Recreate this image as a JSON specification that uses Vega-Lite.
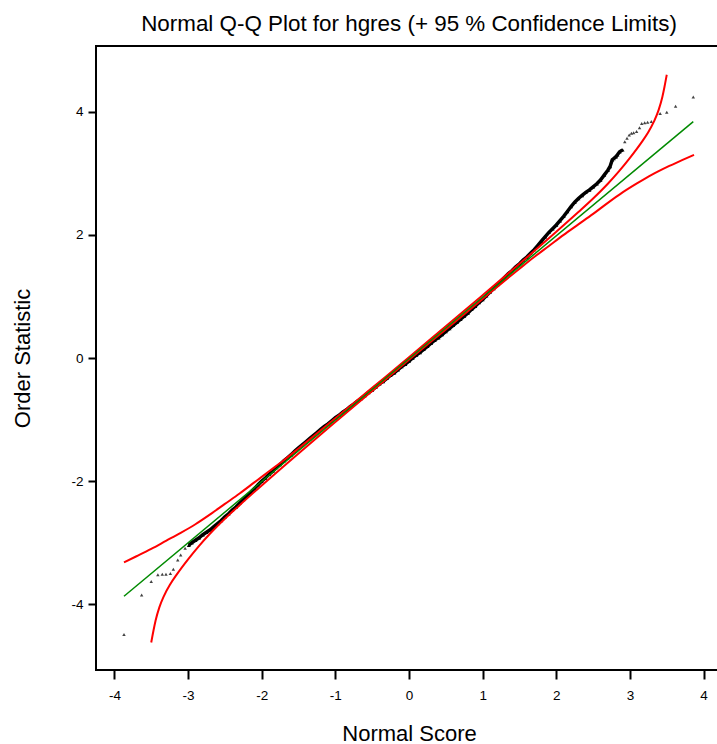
{
  "$schema": "https://vega.github.io/schema/vega-lite/v6.json",
  "autosize": {"type": "none"},
  "padding": {"left": 96, "top": 46, "right": 0, "bottom": 74},
  "width": 626,
  "height": 624,
  "background": "white",
  "title": {
    "text": "Normal Q-Q Plot for hgres (+ 95 % Confidence Limits)",
    "fontSize": 22.4,
    "fontWeight": "normal",
    "font": "Liberation Sans",
    "color": "#000000",
    "anchor": "middle",
    "frame": "group",
    "baseline": "alphabetic",
    "offset": -7
  },
  "config": {
    "font": "Liberation Sans",
    "view": {"stroke": "#000000", "strokeWidth": 2},
    "axis": {
      "grid": false,
      "domain": false,
      "tickColor": "#000000",
      "tickWidth": 2,
      "labelColor": "#000000",
      "labelFontSize": 13.5,
      "titleColor": "#000000",
      "titleFontSize": 22,
      "titleFontWeight": "normal",
      "labelExpr": "'' + datum.value"
    }
  },
  "datasets": {
    "tail": [
      {"x": -3.87, "y": -4.49}, {"x": -3.63, "y": -3.85}, {"x": -3.5, "y": -3.63}, {"x": -3.41, "y": -3.52},
      {"x": -3.35, "y": -3.51}, {"x": -3.3, "y": -3.51}, {"x": -3.24, "y": -3.5}, {"x": -3.2, "y": -3.43},
      {"x": -3.14, "y": -3.28}, {"x": -3.1, "y": -3.2}, {"x": -3.04, "y": -3.09},
      {"x": 2.93, "y": 3.51}, {"x": 2.96, "y": 3.57}, {"x": 2.99, "y": 3.62},
      {"x": 3.02, "y": 3.65}, {"x": 3.05, "y": 3.66}, {"x": 3.09, "y": 3.68}, {"x": 3.13, "y": 3.74},
      {"x": 3.16, "y": 3.81}, {"x": 3.2, "y": 3.82}, {"x": 3.24, "y": 3.83}, {"x": 3.29, "y": 3.84},
      {"x": 3.41, "y": 3.97}, {"x": 3.5, "y": 3.99}, {"x": 3.62, "y": 4.09}, {"x": 3.86, "y": 4.24}
    ],
    "dense": [
      {"x": -2.99, "y": -3.04},
      {"x": -2.95, "y": -3.0}, {"x": -2.9, "y": -2.96}, {"x": -2.85, "y": -2.92}, {"x": -2.8, "y": -2.87},
      {"x": -2.75, "y": -2.83}, {"x": -2.7, "y": -2.79}, {"x": -2.65, "y": -2.74}, {"x": -2.6, "y": -2.69},
      {"x": -2.55, "y": -2.64}, {"x": -2.5, "y": -2.58}, {"x": -2.45, "y": -2.53}, {"x": -2.4, "y": -2.47},
      {"x": -2.35, "y": -2.42}, {"x": -2.3, "y": -2.36}, {"x": -2.25, "y": -2.3}, {"x": -2.2, "y": -2.24},
      {"x": -2.15, "y": -2.18}, {"x": -2.1, "y": -2.12}, {"x": -2.05, "y": -2.06}, {"x": -2.0, "y": -2.0},
      {"x": -1.95, "y": -1.95}, {"x": -1.9, "y": -1.89}, {"x": -1.85, "y": -1.84}, {"x": -1.8, "y": -1.78},
      {"x": -1.75, "y": -1.73}, {"x": -1.7, "y": -1.67}, {"x": -1.65, "y": -1.62}, {"x": -1.6, "y": -1.57},
      {"x": -1.55, "y": -1.51}, {"x": -1.5, "y": -1.46}, {"x": -1.45, "y": -1.41}, {"x": -1.4, "y": -1.36},
      {"x": -1.35, "y": -1.31}, {"x": -1.3, "y": -1.26}, {"x": -1.25, "y": -1.21}, {"x": -1.2, "y": -1.16},
      {"x": -1.15, "y": -1.11}, {"x": -1.1, "y": -1.07}, {"x": -1.05, "y": -1.02}, {"x": -1.0, "y": -0.97},
      {"x": -0.95, "y": -0.93}, {"x": -0.9, "y": -0.88}, {"x": -0.85, "y": -0.84}, {"x": -0.8, "y": -0.79},
      {"x": -0.75, "y": -0.75}, {"x": -0.7, "y": -0.7}, {"x": -0.65, "y": -0.66}, {"x": -0.6, "y": -0.61},
      {"x": -0.55, "y": -0.56}, {"x": -0.5, "y": -0.52}, {"x": -0.45, "y": -0.47}, {"x": -0.4, "y": -0.42},
      {"x": -0.35, "y": -0.38}, {"x": -0.3, "y": -0.33}, {"x": -0.25, "y": -0.28}, {"x": -0.2, "y": -0.24},
      {"x": -0.15, "y": -0.19}, {"x": -0.1, "y": -0.14}, {"x": -0.05, "y": -0.1}, {"x": 0.0, "y": -0.05},
      {"x": 0.05, "y": 0.0}, {"x": 0.1, "y": 0.05}, {"x": 0.15, "y": 0.09}, {"x": 0.2, "y": 0.14},
      {"x": 0.25, "y": 0.19}, {"x": 0.3, "y": 0.24}, {"x": 0.35, "y": 0.29}, {"x": 0.4, "y": 0.33},
      {"x": 0.45, "y": 0.38}, {"x": 0.5, "y": 0.43}, {"x": 0.55, "y": 0.48}, {"x": 0.6, "y": 0.53},
      {"x": 0.65, "y": 0.58}, {"x": 0.7, "y": 0.63}, {"x": 0.75, "y": 0.68}, {"x": 0.8, "y": 0.73},
      {"x": 0.85, "y": 0.79}, {"x": 0.9, "y": 0.84}, {"x": 0.95, "y": 0.9}, {"x": 1.0, "y": 0.95},
      {"x": 1.05, "y": 1.01}, {"x": 1.1, "y": 1.07}, {"x": 1.15, "y": 1.13}, {"x": 1.2, "y": 1.19},
      {"x": 1.25, "y": 1.25}, {"x": 1.3, "y": 1.31}, {"x": 1.35, "y": 1.37}, {"x": 1.4, "y": 1.42},
      {"x": 1.45, "y": 1.48}, {"x": 1.5, "y": 1.53}, {"x": 1.55, "y": 1.59}, {"x": 1.6, "y": 1.64},
      {"x": 1.65, "y": 1.7}, {"x": 1.7, "y": 1.76}, {"x": 1.75, "y": 1.83}, {"x": 1.8, "y": 1.9},
      {"x": 1.85, "y": 1.97}, {"x": 1.9, "y": 2.04}, {"x": 1.95, "y": 2.1}, {"x": 2.0, "y": 2.16},
      {"x": 2.05, "y": 2.23}, {"x": 2.1, "y": 2.3}, {"x": 2.15, "y": 2.38}, {"x": 2.2, "y": 2.46},
      {"x": 2.25, "y": 2.53}, {"x": 2.3, "y": 2.59}, {"x": 2.35, "y": 2.64}, {"x": 2.4, "y": 2.69},
      {"x": 2.45, "y": 2.73}, {"x": 2.5, "y": 2.78}, {"x": 2.55, "y": 2.83}, {"x": 2.6, "y": 2.89},
      {"x": 2.65, "y": 2.97}, {"x": 2.7, "y": 3.05}, {"x": 2.73, "y": 3.11}, {"x": 2.76, "y": 3.22},
      {"x": 2.78, "y": 3.24}, {"x": 2.81, "y": 3.27}, {"x": 2.83, "y": 3.3}, {"x": 2.86, "y": 3.35},
      {"x": 2.9, "y": 3.38}
    ],
    "refline": [
      {"x": -3.87, "y": -3.87}, {"x": 3.86, "y": 3.84}
    ],
    "bands": [
      {"band": "upper", "x": -3.87, "y": -3.32}, {"band": "upper", "x": -3.7, "y": -3.22},
      {"band": "upper", "x": -3.5, "y": -3.1}, {"band": "upper", "x": -3.3, "y": -2.97},
      {"band": "upper", "x": -3.1, "y": -2.84}, {"band": "upper", "x": -2.9, "y": -2.7},
      {"band": "upper", "x": -2.7, "y": -2.54}, {"band": "upper", "x": -2.5, "y": -2.37},
      {"band": "upper", "x": -2.3, "y": -2.2}, {"band": "upper", "x": -2.1, "y": -2.02},
      {"band": "upper", "x": -1.9, "y": -1.84}, {"band": "upper", "x": -1.7, "y": -1.66},
      {"band": "upper", "x": -1.5, "y": -1.47}, {"band": "upper", "x": -1.0, "y": -0.98},
      {"band": "upper", "x": -0.5, "y": -0.485}, {"band": "upper", "x": 0.0, "y": 0.01},
      {"band": "upper", "x": 0.5, "y": 0.515}, {"band": "upper", "x": 1.0, "y": 1.02},
      {"band": "upper", "x": 1.5, "y": 1.53}, {"band": "upper", "x": 2.0, "y": 2.05},
      {"band": "upper", "x": 2.3, "y": 2.37}, {"band": "upper", "x": 2.5, "y": 2.59},
      {"band": "upper", "x": 2.7, "y": 2.83}, {"band": "upper", "x": 2.85, "y": 3.03},
      {"band": "upper", "x": 3.0, "y": 3.25}, {"band": "upper", "x": 3.15, "y": 3.49},
      {"band": "upper", "x": 3.24, "y": 3.65}, {"band": "upper", "x": 3.33, "y": 3.85},
      {"band": "upper", "x": 3.39, "y": 4.03}, {"band": "upper", "x": 3.44, "y": 4.24},
      {"band": "upper", "x": 3.47, "y": 4.41}, {"band": "upper", "x": 3.5, "y": 4.6},
      {"band": "lower", "x": -3.5, "y": -4.62}, {"band": "lower", "x": -3.47, "y": -4.43},
      {"band": "lower", "x": -3.44, "y": -4.26}, {"band": "lower", "x": -3.39, "y": -4.05},
      {"band": "lower", "x": -3.33, "y": -3.87}, {"band": "lower", "x": -3.24, "y": -3.67},
      {"band": "lower", "x": -3.15, "y": -3.51}, {"band": "lower", "x": -3.0, "y": -3.27},
      {"band": "lower", "x": -2.85, "y": -3.05}, {"band": "lower", "x": -2.7, "y": -2.85},
      {"band": "lower", "x": -2.5, "y": -2.61}, {"band": "lower", "x": -2.3, "y": -2.39},
      {"band": "lower", "x": -2.0, "y": -2.07}, {"band": "lower", "x": -1.5, "y": -1.55},
      {"band": "lower", "x": -1.0, "y": -1.04}, {"band": "lower", "x": -0.5, "y": -0.535},
      {"band": "lower", "x": 0.0, "y": -0.03}, {"band": "lower", "x": 0.5, "y": 0.465},
      {"band": "lower", "x": 1.0, "y": 0.96}, {"band": "lower", "x": 1.5, "y": 1.45},
      {"band": "lower", "x": 1.7, "y": 1.64}, {"band": "lower", "x": 1.9, "y": 1.82},
      {"band": "lower", "x": 2.1, "y": 2.0}, {"band": "lower", "x": 2.3, "y": 2.17},
      {"band": "lower", "x": 2.5, "y": 2.34}, {"band": "lower", "x": 2.7, "y": 2.52},
      {"band": "lower", "x": 2.9, "y": 2.69}, {"band": "lower", "x": 3.1, "y": 2.84},
      {"band": "lower", "x": 3.3, "y": 2.98}, {"band": "lower", "x": 3.5, "y": 3.1},
      {"band": "lower", "x": 3.7, "y": 3.21}, {"band": "lower", "x": 3.87, "y": 3.3}
    ]
  },
  "encoding": {
    "x": {
      "field": "x", "type": "quantitative",
      "scale": {"domain": [-4.25, 4.25], "nice": false, "zero": false},
      "axis": {
        "title": "Normal Score",
        "values": [-4, -3, -2, -1, 0, 1, 2, 3, 4],
        "tickSize": 9,
        "labelPadding": 9,
        "titleY": 70,
        "titleBaseline": "alphabetic"
      }
    },
    "y": {
      "field": "y", "type": "quantitative",
      "scale": {"domain": [-5.067, 5.067], "nice": false, "zero": false},
      "axis": {
        "title": "Order Statistic",
        "values": [-4, -2, 0, 2, 4],
        "tickSize": 8,
        "labelPadding": 5,
        "titleX": -67,
        "titleBaseline": "alphabetic"
      }
    }
  },
  "layer": [
    {
      "data": {"name": "dense"},
      "mark": {"type": "line", "color": "#000000", "strokeWidth": 3.5},
      "encoding": {}
    },
    {
      "data": {"name": "dense"},
      "mark": {"type": "point", "shape": "triangle-up", "filled": true, "size": 16, "color": "#000000", "opacity": 1}
    },
    {
      "data": {"name": "tail"},
      "mark": {"type": "point", "shape": "triangle-up", "filled": true, "size": 12, "color": "#222222", "opacity": 0.85}
    },
    {
      "data": {"name": "bands"},
      "mark": {"type": "line", "color": "#ff0000", "strokeWidth": 2, "interpolate": "monotone"},
      "encoding": {"detail": {"field": "band"}}
    },
    {
      "data": {"name": "refline"},
      "mark": {"type": "line", "color": "#008a00", "strokeWidth": 1.5},
      "encoding": {}
    }
  ]
}
